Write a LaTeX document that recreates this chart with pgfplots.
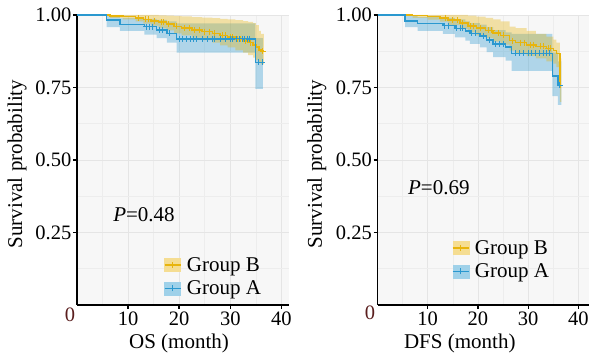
\documentclass[border=0pt]{standalone}
\usepackage{fontspec}
\setmainfont{Liberation Serif}
\usepackage{pgfplots}
\usepackage{pgfplotstable}
\pgfplotsset{compat=1.18}
\usepgfplotslibrary{fillbetween}
\definecolor{colA}{HTML}{2A98CF}
\definecolor{colB}{HTML}{E8B40C}
\definecolor{zerocol}{HTML}{5A1E1E}

% OS, group A
\pgfplotstableread{
x y lo hi
0 1.000 1.000 1.000
5.8 0.982 0.958 0.998
8.4 0.967 0.945 0.990
13.2 0.960 0.932 0.987
15.6 0.948 0.920 0.983
17.6 0.937 0.905 0.978
19.5 0.918 0.870 0.971
34.9 0.837 0.745 0.920
36.4 0.837 0.745 0.920
}\osA
% OS, group B
\pgfplotstableread{
x y lo hi
0 1.000 1.000 1.000
6.5 0.997 0.990 1.000
9 0.994 0.985 1.000
11.5 0.990 0.978 1.000
13 0.985 0.970 1.000
14.5 0.980 0.963 1.000
16 0.975 0.955 0.999
17.5 0.969 0.947 0.998
19 0.961 0.937 0.996
20.5 0.955 0.930 0.995
22.5 0.949 0.922 0.993
24.5 0.943 0.913 0.991
26.5 0.937 0.905 0.989
28 0.930 0.895 0.987
29.5 0.924 0.888 0.985
31 0.917 0.878 0.982
32.5 0.911 0.870 0.979
33.5 0.905 0.862 0.976
34.5 0.897 0.853 0.972
35 0.890 0.845 0.965
35.6 0.880 0.835 0.945
36 0.875 0.830 0.935
36.6 0.875 0.830 0.935
}\osB
\pgfplotstableread{
x y
13.6 0.960
14.2 0.960
14.7 0.960
16.2 0.948
16.8 0.948
18.2 0.937
20.0 0.918
20.6 0.918
21.5 0.918
22.3 0.918
22.8 0.918
23.3 0.918
24.5 0.918
25.5 0.918
26.5 0.918
27.0 0.918
28.0 0.918
29.0 0.918
30.0 0.918
30.5 0.918
31.2 0.918
31.8 0.918
32.3 0.918
32.8 0.918
33.3 0.918
33.8 0.918
35.5 0.837
36.3 0.837
}\osAc
\pgfplotstableread{
x y
12.0 0.990
13.5 0.985
14.0 0.985
15.2 0.980
16.5 0.975
17.0 0.975
18.0 0.969
19.5 0.961
21.0 0.955
22.0 0.955
23.0 0.949
24.0 0.949
25.0 0.943
26.0 0.943
27.0 0.937
28.5 0.930
29.0 0.930
30.0 0.924
30.5 0.924
31.5 0.917
32.0 0.917
33.0 0.911
34.0 0.905
36.4 0.875
}\osBc
% DFS, group A
\pgfplotstableread{
x y lo hi
0 1.000 1.000 1.000
5.5 0.980 0.958 0.997
8 0.971 0.945 0.993
13 0.963 0.935 0.990
15.4 0.954 0.923 0.985
17.5 0.945 0.912 0.978
18.4 0.937 0.900 0.972
20.4 0.928 0.888 0.967
21.7 0.914 0.872 0.958
23 0.900 0.855 0.948
25.5 0.890 0.843 0.940
26.7 0.868 0.807 0.935
34.8 0.790 0.720 0.870
35.9 0.757 0.690 0.840
36.6 0.757 0.690 0.840
}\dfsA
% DFS, group B
\pgfplotstableread{
x y lo hi
0 1.000 1.000 1.000
7 0.998 0.990 1.000
10 0.994 0.984 1.000
12.4 0.990 0.977 1.000
14 0.982 0.965 1.000
16.4 0.972 0.952 1.000
18 0.962 0.940 0.998
19.7 0.955 0.930 0.994
21.5 0.947 0.920 0.990
23 0.938 0.908 0.985
24.5 0.930 0.898 0.978
26.3 0.912 0.877 0.960
27.5 0.905 0.868 0.955
29.7 0.897 0.858 0.945
31.5 0.892 0.850 0.935
33.6 0.885 0.840 0.925
35 0.877 0.832 0.915
35.6 0.868 0.820 0.905
36.3 0.757 0.700 0.850
36.6 0.757 0.700 0.850
}\dfsB
\pgfplotstableread{
x y
13.4 0.963
14.2 0.963
15.8 0.954
16.5 0.954
17.0 0.954
18.8 0.937
19.5 0.937
21.0 0.928
22.3 0.914
23.5 0.900
24.2 0.900
25.0 0.900
27.5 0.868
28.2 0.868
29.0 0.868
30.0 0.868
30.7 0.868
31.5 0.868
32.2 0.868
33.0 0.868
33.7 0.868
34.3 0.868
36.3 0.757
}\dfsAc
\pgfplotstableread{
x y
13.5 0.990
15.0 0.982
16.0 0.982
17.0 0.972
18.5 0.962
19.2 0.962
20.5 0.955
22.0 0.947
22.7 0.947
24.0 0.938
25.0 0.930
26.8 0.912
28.5 0.905
29.2 0.905
30.5 0.897
31.0 0.897
32.5 0.892
33.0 0.892
34.0 0.885
34.5 0.885
36.4 0.757
}\dfsBc

\pgfplotsset{
  kmaxis/.style={
    scale only axis, height=290bp,
    xmin=0, ymin=0, ymax=1,
    clip=false,
    axis lines*=left,
    axis line style={black, line width=1.6bp, -},
    xtick={10,20,30,40}, ytick={0.25,0.5,0.75,1},
    minor xtick={5,15,25,35}, minor ytick={0.125,0.375,0.625,0.875},
    yticklabel style={/pgf/number format/fixed, /pgf/number format/fixed zerofill, /pgf/number format/precision=2},
    grid=both,
    major grid style={black!10, line width=0.6bp},
    minor grid style={black!7, line width=0.5bp},
    tick align=outside, major tick length=4bp, minor tick length=0pt,
    major tick style={black, line width=1.4bp},
    axis background/.style={fill=black!3},
    /pgf/number format/assume math mode=true,
    ticklabel style={font=\fontsize{20.5bp}{24bp}\selectfont},
    xticklabel style={inner sep=2.5bp},
    yticklabel style={inner sep=1.5bp},
    label style={font=\fontsize{21bp}{25bp}\selectfont},
    legend style={draw=none, fill=none, inner sep=0pt, outer sep=0pt,
      row sep=5bp, font=\fontsize{21bp}{25bp}\selectfont,
      nodes={inner sep=1.5bp},
      /tikz/every odd column/.append style={column sep=4bp}},
    legend cell align=left,
  },
  band/.style={fill=#1, fill opacity=0.35, draw=none, forget plot},
  kmline/.style={const plot mark left, color=#1, line width=1.5bp, no markers, forget plot},
  cens/.style={only marks, mark=+, mark size=3bp, color=#1, mark options={line width=1bp}, forget plot},
  legB/.style={legend image code/.code={
      \fill[colB!45] (0bp,-6.5bp) rectangle (16bp,6.5bp);
      \draw[colB, line width=1.5bp] (0bp,0bp) -- (16bp,0bp);
      \draw[colB, line width=0.9bp] (8bp,-3bp) -- (8bp,3bp);}},
  legA/.style={legend image code/.code={
      \fill[colA!45] (0bp,-6.5bp) rectangle (16bp,6.5bp);
      \draw[colA, line width=1.5bp] (0bp,0bp) -- (16bp,0bp);
      \draw[colA, line width=0.9bp] (8bp,-3bp) -- (8bp,3bp);}},
}

\begin{document}
\begin{tikzpicture}

\begin{axis}[kmaxis, at={(77bp,56bp)}, anchor=south west, width=212bp, xmax=41.5,
  xlabel={OS (month)}, ylabel={Survival probability},
  xlabel style={at={(axis description cs:0.481,-0.134)}, anchor=center},
  ylabel style={at={(axis description cs:-0.283,0.486)}, anchor=center},
  legend style={at={(axis description cs:0.41,0.17)}, anchor=north west}]
  \addplot[name path=oAh, const plot mark left, draw=none, forget plot] table[x=x, y=hi] {\osA};
  \addplot[name path=oAl, const plot mark left, draw=none, forget plot] table[x=x, y=lo] {\osA};
  \addplot[band=colA] fill between[of=oAh and oAl];
  \addplot[name path=oBh, const plot mark left, draw=none, forget plot] table[x=x, y=hi] {\osB};
  \addplot[name path=oBl, const plot mark left, draw=none, forget plot] table[x=x, y=lo] {\osB};
  \addplot[band=colB] fill between[of=oBh and oBl];
  \addplot[kmline=colB] table[x=x, y=y] {\osB};
  \addplot[kmline=colA] table[x=x, y=y] {\osA};
  \addplot[cens=colB] table[x=x, y=y] {\osBc};
  \addplot[cens=colA] table[x=x, y=y] {\osAc};
  \addlegendimage{legB}\addlegendentry{Group B}
  \addlegendimage{legA}\addlegendentry{Group A}
  \node[anchor=west, inner sep=0pt, font=\fontsize{21bp}{25bp}\selectfont] at (axis cs:7.06,0.31) {\textit{P}=0.48};
\end{axis}

\begin{axis}[kmaxis, at={(377.5bp,56bp)}, anchor=south west, width=211bp, xmax=42,
  xlabel={DFS (month)}, ylabel={Survival probability},
  xlabel style={at={(axis description cs:0.39,-0.134)}, anchor=center},
  ylabel style={at={(axis description cs:-0.287,0.486)}, anchor=center},
  legend style={at={(axis description cs:0.353,0.228)}, anchor=north west}]
  \addplot[name path=dAh, const plot mark left, draw=none, forget plot] table[x=x, y=hi] {\dfsA};
  \addplot[name path=dAl, const plot mark left, draw=none, forget plot] table[x=x, y=lo] {\dfsA};
  \addplot[band=colA] fill between[of=dAh and dAl];
  \addplot[name path=dBh, const plot mark left, draw=none, forget plot] table[x=x, y=hi] {\dfsB};
  \addplot[name path=dBl, const plot mark left, draw=none, forget plot] table[x=x, y=lo] {\dfsB};
  \addplot[band=colB] fill between[of=dBh and dBl];
  \addplot[kmline=colB] table[x=x, y=y] {\dfsB};
  \addplot[kmline=colA] table[x=x, y=y] {\dfsA};
  \addplot[cens=colB] table[x=x, y=y] {\dfsBc};
  \addplot[cens=colA] table[x=x, y=y] {\dfsAc};
  \addlegendimage{legB}\addlegendentry{Group B}
  \addlegendimage{legA}\addlegendentry{Group A}
  \node[anchor=west, inner sep=0pt, font=\fontsize{21bp}{25bp}\selectfont] at (axis cs:6.06,0.403) {\textit{P}=0.69};
\end{axis}

\node[text=zerocol, font=\fontsize{20.5bp}{24bp}\selectfont, inner sep=0pt] at (70bp,46bp) {0};
\node[text=zerocol, font=\fontsize{20.5bp}{24bp}\selectfont, inner sep=0pt] at (370bp,48bp) {0};
\pgfresetboundingbox
\path[use as bounding box] (0,0) rectangle (590bp,361bp);
\end{tikzpicture}
\end{document}
